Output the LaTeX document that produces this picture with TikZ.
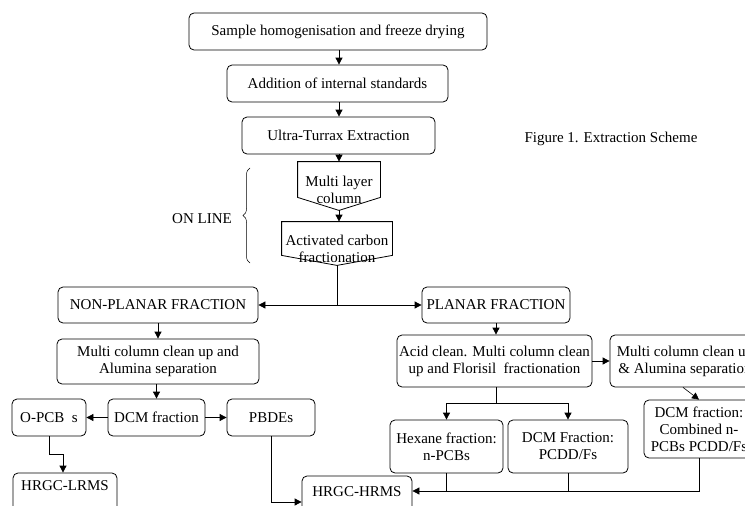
\documentclass[tikz,border=0pt]{standalone}
\usepackage{fontspec}
\setmainfont{Liberation Serif}
\usetikzlibrary{arrows.meta,decorations.pathreplacing}
\begin{document}
\begin{tikzpicture}[x=1pt,y=-1pt,line width=0.8pt,
  txt/.style={align=center,inner sep=1pt,font=\fontsize{15}{17}\selectfont},
  box/.style={txt,draw,rounded corners=5pt},
  cutbox/.style={box,anchor=base,inner ysep=5pt,text depth=32pt},
  arr/.style={-{Triangle[length=7pt,width=7pt]}}]
\useasboundingbox (0,0) rectangle (745,506);
\clip (0,0) rectangle (745,506);
% top chain
\node[box,minimum width=298,minimum height=37] (b1) at (338,31.5) {Sample homogenisation and freeze drying};
\node[box,minimum width=221,minimum height=37] (b2) at (337.5,83.5) {Addition of internal standards};
\node[box,minimum width=193,minimum height=37] (b3) at (338.5,135.5) {Ultra-Turrax Extraction};
% online columns
\node[minimum width=82,minimum height=48,inner sep=0pt] (mlc) at (339,186) {};
\draw (mlc.north west) -- (mlc.north east) -- ([yshift=13pt]mlc.south east) -- (mlc.south) -- ([yshift=13pt]mlc.south west) -- cycle;
\node[txt] (mlct) at ([yshift=-4pt]mlc.center) {Multi layer\\column};
\node[minimum width=110,minimum height=43,inner sep=0pt] (acf) at (337,243.5) {};
\draw (acf.north west) -- (acf.north east) -- ([yshift=10pt]acf.south east) -- (acf.south) -- ([yshift=10pt]acf.south west) -- cycle;
\node[txt] (acft) at ([yshift=-5pt]acf.center) {Activated carbon\\fractionation};
\node[txt] (onl) at (202,219) {ON LINE};
\draw[line width=0.5pt,decorate,decoration={brace,amplitude=7pt}] (250,263) -- (250,168);
\node[txt] (cap) at (611,139) {Figure 1. Extraction Scheme};
% fractions
\node[box,minimum width=200,minimum height=36] (np) at (158,305) {NON-PLANAR FRACTION};
\node[box,minimum width=148,minimum height=36] (pl) at (496,305) {PLANAR FRACTION};
% left branch
\node[box,minimum width=202,minimum height=45] (mcl) at (158,361.5) {Multi column clean up and\\Alumina separation};
\node[box,minimum width=97,minimum height=37] (dcm) at (156.5,417.5) {DCM fraction};
\node[box,minimum width=74,minimum height=37] (opcb) at (49,417.5) {O-PCB\ \ s};
\node[box,minimum width=88,minimum height=37] (pbde) at (271,417.5) {PBDEs};
\node[cutbox,minimum width=104,text height=12pt] (lrms) at (65,490) {HRGC-LRMS};
\node[cutbox,minimum width=110,text height=15pt] (hrms) at (357,496) {HRGC-HRMS};
% right branch
\node[box,minimum width=195,minimum height=52] (acid) at (494.5,361) {Acid clean. Multi column clean\\up and Florisil\ \ fractionation};
\node[box,minimum width=150,minimum height=52] (mcr) at (685,361) {Multi column clean up\\\& Alumina separation};
\node[box,minimum width=110,minimum height=58] (comb) at (699,429) {DCM fraction:\\Combined n-\\PCBs PCDD/Fs};
\node[box,minimum width=113,minimum height=53] (hex) at (446.5,446.5) {Hexane fraction:\\n-PCBs};
\node[box,minimum width=120,minimum height=53] (pcdd) at (568,446.5) {DCM Fraction:\\PCDD/Fs};
% connectors
\draw[arr] (b1.south -| 339,0) -- (b2.north -| 339,0);
\draw[arr] (b2.south -| 339,0) -- (b3.north -| 339,0);
\draw[arr] (b3.south -| 339,0) -- (mlc.north);
\draw[arr] (mlc.south) -- (mlc.south |- acf.north);
\draw (acf.south) -- (acf.south |- 0,305) coordinate (j);
\draw[arr] (j) -- (np.east);
\draw[arr] (j) -- (pl.west);
\draw[arr] (np.south) -- (mcl.north);
\draw[arr] (mcl.south -| dcm.north) -- (dcm.north);
\draw[arr] (dcm.west) -- (opcb.east);
\draw[arr] (dcm.east) -- (pbde.west);
\draw[arr] (opcb.south) -- ++(0,18) -| (lrms.north -| 63,0);
\draw[arr] (pbde.south) |- (hrms.west |- 0,502);
\draw[arr] (pl.south) -- (pl.south |- acid.north);
\draw[arr] (acid.east) -- (mcr.west);
\draw (acid.south -| 496,0) -- ++(0,16) coordinate (s);
\draw[arr] (s) -| (hex.north);
\draw[arr] (s) -| (pcdd.north);
\draw[arr,line width=0.6pt] (mcr.south -| 683,0) -- (comb.north);
\draw[arr] (comb.south) |- (hrms.east |- 0,491);
\draw (hex.south) -- (hex.south |- 0,491);
\draw (pcdd.south) -- (pcdd.south |- 0,491);
\end{tikzpicture}
\end{document}
